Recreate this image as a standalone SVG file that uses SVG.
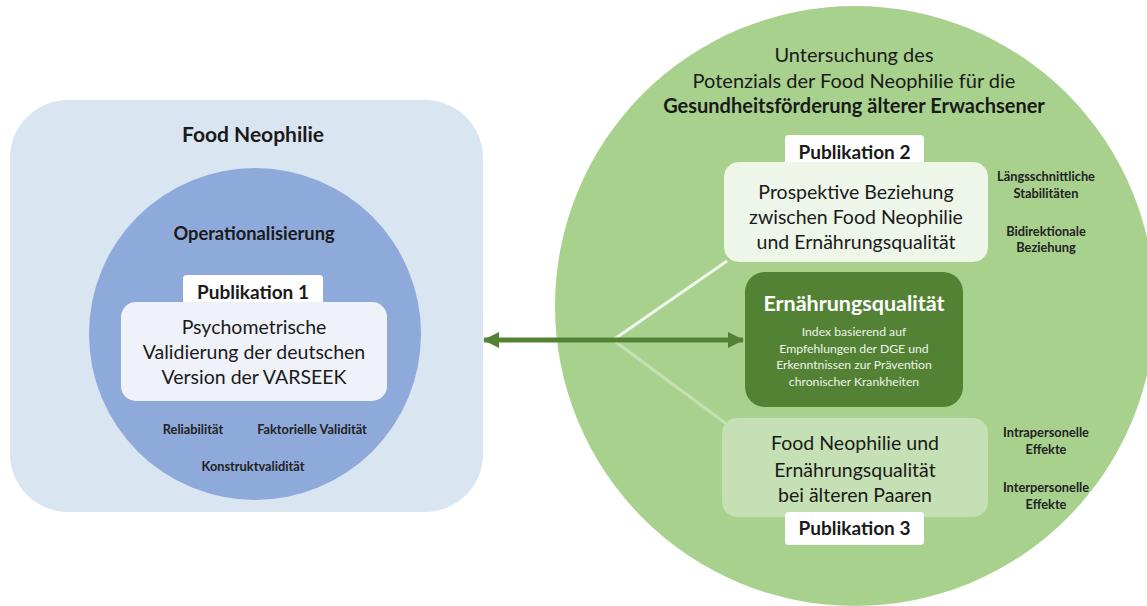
<svg xmlns="http://www.w3.org/2000/svg" width="1147" height="606" viewBox="0 0 1147 606">
<defs>
<style>
text{font-family:Lato,"Liberation Sans",sans-serif;fill:#1a1a1a;text-anchor:middle}
.b{font-weight:bold}
.t{font-size:20px}
.box{font-size:19.5px}
.tab{font-size:19px;font-weight:bold}
.lbl{font-size:12.8px;font-weight:bold;fill:#222}
.w{fill:#ffffff}
.sub{font-size:12.2px;fill:#eef3ea}
</style>
<marker id="ah" viewBox="0 0 16 16" refX="15" refY="8" markerWidth="16" markerHeight="16" markerUnits="userSpaceOnUse" orient="auto-start-reverse">
<path d="M0,0 L16,8 L0,16 Z" fill="#548235"/>
</marker>
</defs>
<rect width="1147" height="606" fill="#ffffff"/>

<g id="food-neophilie">
<rect x="10" y="100" width="473" height="412" rx="58" fill="#dae5f2"/>
<text class="b" x="253" y="142" style="font-size:21px">Food Neophilie</text>
</g>
<g id="operationalisierung">
<circle cx="255" cy="334" r="166" fill="#8eaadb"/>
<text class="b" x="254" y="239.5" style="font-size:18.3px">Operationalisierung</text>
<text class="lbl" x="193" y="433.5">Reliabilität</text>
<text class="lbl" x="312" y="433.5">Faktorielle Validität</text>
<text class="lbl" x="253" y="470.5">Konstruktvalidität</text>
</g>
<g id="publikation1">
<rect x="183" y="275" width="140" height="34" rx="4" fill="#ffffff"/>
<rect x="121" y="302" width="266" height="99" rx="15" fill="#eff2f9"/>
<text class="tab" x="253" y="299">Publikation 1</text>
<text class="box" x="254" y="334">Psychometrische</text>
<text class="box" x="254" y="359">Validierung der deutschen</text>
<text class="box" x="254" y="384">Version der VARSEEK</text>
</g>

<g id="gesundheitsfoerderung">
<circle cx="855" cy="306" r="300" fill="#a9d18e"/>
<text class="t" x="854" y="62">Untersuchung des</text>
<text class="t" x="854" y="88">Potenzials der Food Neophilie für die</text>
<text class="t b" x="854" y="113">Gesundheitsförderung älterer Erwachsener</text>
</g>

<g id="connectors">
<line x1="613" y1="340" x2="727" y2="261" stroke="#f1f6ec" stroke-width="3"/>
<line x1="613" y1="340" x2="728" y2="425" stroke="#c5e0b4" stroke-width="3"/>
<line x1="484" y1="340" x2="743" y2="340" stroke="#548235" stroke-width="5" marker-start="url(#ah)" marker-end="url(#ah)"/>
</g>

<g id="publikation2">
<rect x="785" y="135" width="139" height="32" rx="4" fill="#ffffff"/>
<rect x="724" y="162" width="264" height="100" rx="15" fill="#eef5e9"/>
<text class="tab" x="854.5" y="158.5">Publikation 2</text>
<text class="box" x="856" y="199">Prospektive Beziehung</text>
<text class="box" x="856" y="224">zwischen Food Neophilie</text>
<text class="box" x="856" y="249">und Ernährungsqualität</text>
<text class="lbl" x="1046" y="180.5">Längsschnittliche</text>
<text class="lbl" x="1046" y="197.5">Stabilitäten</text>
<text class="lbl" x="1046" y="235.5">Bidirektionale</text>
<text class="lbl" x="1046" y="251.5">Beziehung</text>
</g>

<g id="ernaehrungsqualitaet">
<rect x="745" y="272" width="218" height="135" rx="20" fill="#548235"/>
<text class="b w" x="854" y="310.5" style="font-size:21.5px">Ernährungsqualität</text>
<text class="sub" x="854" y="336">Index basierend auf</text>
<text class="sub" x="854" y="352.5">Empfehlungen der DGE und</text>
<text class="sub" x="854" y="369">Erkenntnissen zur Prävention</text>
<text class="sub" x="854" y="385.5">chronischer Krankheiten</text>
</g>

<g id="publikation3">
<rect x="722" y="418" width="266" height="99" rx="15" fill="#c5e0b4"/>
<rect x="785" y="512" width="139" height="33" rx="4" fill="#ffffff"/>
<text class="box" x="855" y="450">Food Neophilie und</text>
<text class="box" x="855" y="477">Ernährungsqualität</text>
<text class="box" x="855" y="502">bei älteren Paaren</text>
<text class="tab" x="854.5" y="535">Publikation 3</text>
<text class="lbl" x="1046" y="436.5">Intrapersonelle</text>
<text class="lbl" x="1046" y="453.5">Effekte</text>
<text class="lbl" x="1046" y="491.5">Interpersonelle</text>
<text class="lbl" x="1046" y="508.5">Effekte</text>
</g>
</svg>
